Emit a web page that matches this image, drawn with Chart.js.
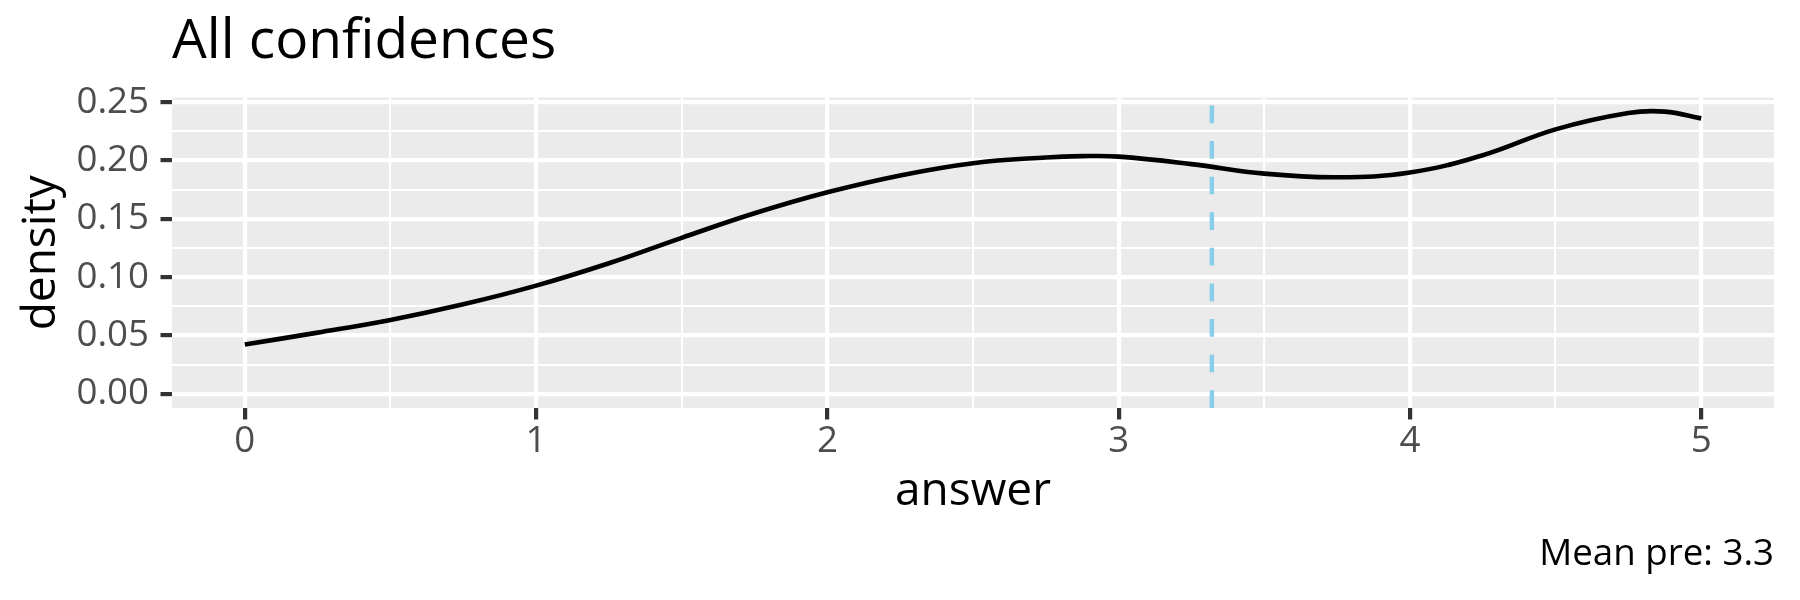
<!DOCTYPE html>
<html><head><meta charset="utf-8">
<script src="https://cdn.jsdelivr.net/npm/chart.js@4.4.1/dist/chart.umd.min.js"></script>
<style>html,body{margin:0;padding:0;background:#fff}#c{display:block}</style>
</head><body>
<canvas id="c" width="1800" height="600"></canvas>
<script>
// ---- data ----
const answerX  = [0, 0.25, 0.5, 0.75, 1, 1.25, 1.5, 1.75, 2, 2.25, 2.5, 2.75, 2.875, 3, 3.25, 3.5, 3.75, 4, 4.25, 4.5, 4.75, 4.875, 5];
const densityY = [0.0423, 0.0525, 0.0634, 0.0768, 0.0928, 0.1120, 0.1338, 0.1548, 0.1728, 0.1873, 0.1978, 0.2027, 0.2038, 0.2034, 0.1970, 0.1888, 0.1857, 0.1898, 0.2046, 0.2268, 0.2408, 0.2420, 0.2362];
const meanPre = 3.32;
const xMajorTicks = [0, 1, 2, 3, 4, 5];
const xMinorTicks = [0.5, 1.5, 2.5, 3.5, 4.5];
const yMajorTicks = [0, 0.05, 0.10, 0.15, 0.20, 0.25];
const yMinorTicks = [0.025, 0.075, 0.125, 0.175, 0.225];
const xLimits = [-0.25, 5.25];
const yLimits = [-0.0121, 0.2541];
const titleText = 'All confidences';
const captionText = 'Mean pre: 3.3';
const xTitleText = 'answer';
const yTitleText = 'density';

const FAMILY = '"Open Sans", "Noto Sans", sans-serif';
const near = (arr, v) => arr.some(m => Math.abs(m - v) < 1e-9);
const allX = xMajorTicks.concat(xMinorTicks).sort((a, b) => a - b);
const allY = yMajorTicks.concat(yMinorTicks).sort((a, b) => a - b);

const panelBg = {
  id: 'panelBg',
  beforeDraw(chart) {
    const {ctx, chartArea: a} = chart;
    ctx.save();
    ctx.fillStyle = '#EBEBEB';
    ctx.fillRect(a.left, a.top, a.right - a.left, a.bottom - a.top);
    ctx.restore();
  }
};

new Chart(document.getElementById('c').getContext('2d'), {
  type: 'line',
  data: {
    datasets: [
      {
        data: answerX.map((x, i) => ({x: x, y: densityY[i]})),
        borderColor: '#000000', borderWidth: 4.6, pointRadius: 0, fill: false,
        tension: 0.4, borderCapStyle: 'butt'
      },
      {
        data: [{x: meanPre, y: yLimits[0]}, {x: meanPre, y: yLimits[1]}],
        borderColor: '#87CEEB', borderWidth: 4.4, borderDash: [17.7, 17.9],
        pointRadius: 0, tension: 0, fill: false, borderCapStyle: 'butt'
      }
    ]
  },
  options: {
    responsive: false, devicePixelRatio: 1, animation: false,
    layout: {padding: {left: 0, right: 26, top: 0, bottom: 0}},
    plugins: {
      legend: {display: false},
      tooltip: {enabled: false},
      title: {
        display: true, text: titleText, align: 'start', fullSize: false, color: '#000',
        font: {family: FAMILY, size: 55, weight: 'normal', lineHeight: 1.2},
        padding: {top: 9, bottom: 22.5}
      },
      subtitle: {
        display: true, text: captionText, position: 'bottom', align: 'end', fullSize: false, color: '#000',
        font: {family: FAMILY, size: 36.7, weight: 'normal', lineHeight: 1.2},
        padding: {top: 5, bottom: 23}
      }
    },
    scales: {
      x: {
        type: 'linear', min: xLimits[0], max: xLimits[1],
        afterBuildTicks: s => { s.ticks = allX.map(v => ({value: v})); },
        afterFit: s => { s.height = 120; },
        ticks: {
          autoSkip: false, maxRotation: 0, padding: 0, color: '#4D4D4D',
          font: {family: FAMILY, size: 36.7, lineHeight: 1.2},
          callback: v => near(xMajorTicks, v) ? String(v) : ''
        },
        grid: {
          color: '#FFFFFF',
          lineWidth: c => near(xMajorTicks, c.tick.value) ? 4.2 : 2.1,
          drawTicks: true, tickLength: 11.5, tickWidth: 4.2,
          tickColor: c => near(xMajorTicks, c.tick.value) ? '#333333' : 'rgba(0,0,0,0)'
        },
        border: {display: false},
        title: {
          display: true, text: xTitleText, color: '#000',
          font: {family: FAMILY, size: 46, lineHeight: 1.2},
          padding: {top: 0, bottom: 8.4}
        }
      },
      y: {
        type: 'linear', min: yLimits[0], max: yLimits[1],
        afterBuildTicks: s => { s.ticks = allY.map(v => ({value: v})); },
        afterFit: s => { s.width = 172; },
        ticks: {
          autoSkip: false, padding: 11.5, color: '#4D4D4D',
          font: {family: FAMILY, size: 36.7, lineHeight: 1.2},
          callback: v => near(yMajorTicks, v) ? v.toFixed(2) : ''
        },
        grid: {
          color: '#FFFFFF',
          lineWidth: c => near(yMajorTicks, c.tick.value) ? 4.2 : 2.1,
          drawTicks: true, tickLength: 11.5, tickWidth: 4.2,
          tickColor: c => near(yMajorTicks, c.tick.value) ? '#333333' : 'rgba(0,0,0,0)'
        },
        border: {display: false},
        title: {
          display: true, text: yTitleText, color: '#000',
          font: {family: FAMILY, size: 46, lineHeight: 1.2},
          padding: {top: 14.4, bottom: 0}
        }
      }
    }
  },
  plugins: [panelBg]
});
</script>
</body></html>
